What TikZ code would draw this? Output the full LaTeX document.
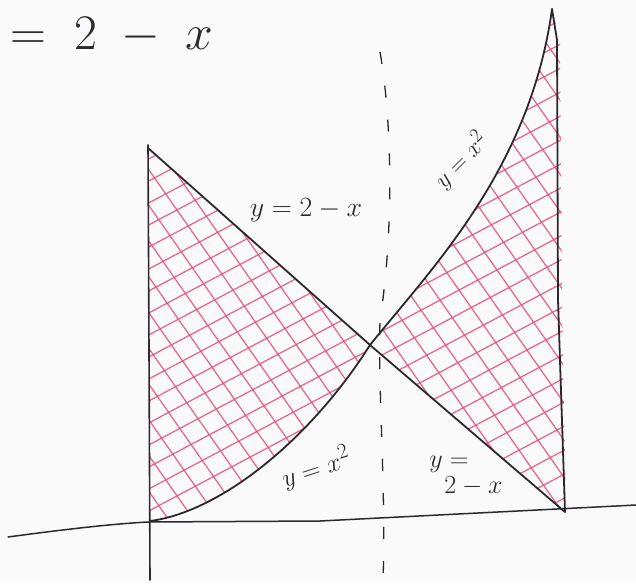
\documentclass[tikz,border=0pt]{standalone}
\usepackage{tikz}
\usepackage{graphicx}
\definecolor{ink}{RGB}{45,40,48}
\definecolor{hatch}{RGB}{228,80,125}
\begin{document}
\begin{tikzpicture}[x=1pt,y=-1pt,
  inkline/.style={draw=ink,line width=1.8pt,line cap=round,line join=round},
  hatchline/.style={draw=hatch,line width=1.3pt,opacity=0.85},
  lbl/.style={text=ink,inner sep=0pt}]
\useasboundingbox (0,0) rectangle (636,583);
\fill[white!96!gray] (0,0) rectangle (636,583);
% key points
\coordinate (TL) at (148,148);
\coordinate (I) at (370,345);
\coordinate (O) at (150,521);
\coordinate (BR) at (565,512);
\coordinate (PT) at (552,9);
% hatching, left region
\begin{scope}
  \clip (TL) -- (I) .. controls (310,440) and (220,512) .. (O) -- cycle;
  \foreach \y in {150,172,...,900} {\path[hatchline] (0,\y) -- (700,\y-372);}
  \foreach \x in {-420,-395,...,600} {\path[hatchline] (\x,0) -- (\x+408,583);}
\end{scope}
% hatching, right region
\begin{scope}
  \clip (I) .. controls (430,270) and (530,170) .. (PT) -- (560,40) -- (562,300) -- (566,512) -- (BR) -- cycle;
  \foreach \y in {150,174,...,900} {\path[hatchline] (0,\y) -- (700,\y-372);}
  \foreach \x in {-420,-394,...,600} {\path[hatchline] (\x,0) -- (\x+408,583);}
\end{scope}
% axes
\draw[inkline,line width=1.5pt] (8,537) .. controls (60,530) and (110,524) .. (148,522) -- (320,521) -- (636,505);
\draw[inkline,line width=1.6pt] (148,145) -- (149,350) -- (150,580);
% dashed vertical line x = 1
\draw[ink,line width=1.3pt,dash pattern=on 12pt off 22pt] (380,52) .. controls (392,120) and (394,230) .. (380,320) .. controls (378,400) and (386,480) .. (383,583);
% y = 2 - x
\draw[inkline] (TL) -- (I) -- (BR);
% y = x^2
\draw[inkline] (O) .. controls (220,512) and (310,440) .. (I) .. controls (430,270) and (530,170) .. (PT);
% x = 2
\draw[inkline] (PT) -- (557,40) -- (558,300) -- (BR);
% labels
\node[lbl] (t0) at (112,36) {\scalebox{2}{\Huge $=\;2\;-\;x$}};
\node[lbl] (t1) at (306,210) {\scalebox{1.12}{\Huge $y=2-x$}};
\node[lbl,rotate=45] (t2) at (461,160) {\scalebox{0.96}{\Huge $y=x^2$}};
\node[lbl,rotate=18] (t3) at (316,468) {\scalebox{1.04}{\Huge $y=x^2$}};
\node[lbl,align=left] (t4) at (466,476) {\scalebox{1.05}{\Huge $y=$}\\[3pt]\hspace{1.5em}\scalebox{1.05}{\Huge $2-x$}};
\end{tikzpicture}
\end{document}
